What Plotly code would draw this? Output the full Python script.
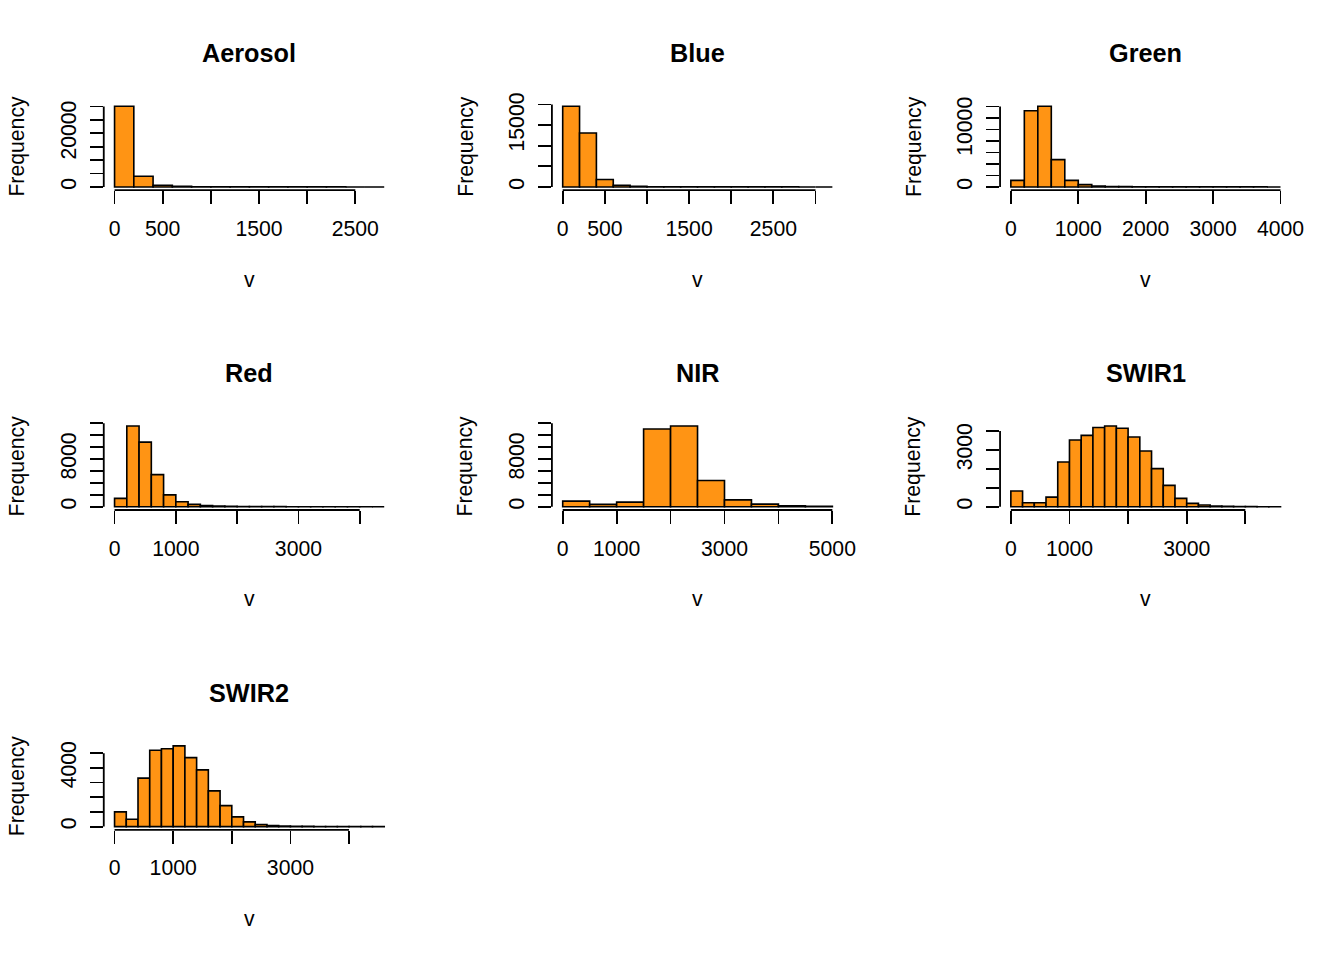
import plotly.graph_objects as go

# ---------------- data ----------------
panel_titles = ["Aerosol", "Blue", "Green", "Red", "NIR", "SWIR1", "SWIR2"]

# histogram breaks: start and bin width per panel
bin_starts = [0, 0, 0, 0, 0, 0, 0]
bin_widths = [200, 200, 200, 200, 500, 200, 200]

aerosol_counts = [30100, 4000, 620, 200, 80, 40, 25, 15, 10, 8, 5, 4, 3, 2]
blue_counts = [19600, 13100, 1800, 400, 150, 60, 35, 20, 12, 8, 6, 5, 4, 3, 2, 1]
green_counts = [1150, 13250, 14050, 4750, 1150, 400, 170, 80, 50, 30, 20, 15,
                10, 8, 6, 5, 4, 3, 2, 1]
red_counts = [1400, 13550, 10850, 5400, 2000, 850, 400, 220, 120, 80, 50, 30,
              20, 15, 10, 8, 6, 5, 4, 3, 2, 1]
nir_counts = [950, 400, 780, 13050, 13550, 4400, 1150, 450, 170, 60]
swir1_counts = [830, 210, 210, 510, 2360, 3520, 3770, 4180, 4260, 4140, 3680,
                2940, 2010, 1130, 440, 180, 90, 40, 20, 10, 6, 3, 2]
swir2_counts = [1000, 500, 3300, 5200, 5300, 5500, 4700, 3860, 2430, 1430, 660,
                320, 140, 70, 35, 20, 12, 8, 5, 3, 2, 1, 1]

# x-axis ticks and labels (R drops labels that would overlap)
aerosol_xticks = [0, 500, 1000, 1500, 2000, 2500]
aerosol_xlabels = ["0", "500", "", "1500", "", "2500"]
blue_xticks = [0, 500, 1000, 1500, 2000, 2500, 3000]
blue_xlabels = ["0", "500", "", "1500", "", "2500", ""]
green_xticks = [0, 1000, 2000, 3000, 4000]
green_xlabels = ["0", "1000", "2000", "3000", "4000"]
red_xticks = [0, 1000, 2000, 3000, 4000]
red_xlabels = ["0", "1000", "", "3000", ""]
nir_xticks = [0, 1000, 2000, 3000, 4000, 5000]
nir_xlabels = ["0", "1000", "", "3000", "", "5000"]
swir1_xticks = [0, 1000, 2000, 3000, 4000]
swir1_xlabels = ["0", "1000", "", "3000", ""]
swir2_xticks = [0, 1000, 2000, 3000, 4000]
swir2_xlabels = ["0", "1000", "", "3000", ""]

# y-axis ticks and labels
aerosol_yticks = [0, 5000, 10000, 15000, 20000, 25000, 30000]
aerosol_ylabels = ["0", "", "", "", "20000", "", ""]
blue_yticks = [0, 5000, 10000, 15000, 20000]
blue_ylabels = ["0", "", "", "15000", ""]
green_yticks = [0, 2000, 4000, 6000, 8000, 10000, 12000, 14000]
green_ylabels = ["0", "", "", "", "", "10000", "", ""]
red_yticks = [0, 2000, 4000, 6000, 8000, 10000, 12000, 14000]
red_ylabels = ["0", "", "", "", "8000", "", "", ""]
nir_yticks = [0, 2000, 4000, 6000, 8000, 10000, 12000, 14000]
nir_ylabels = ["0", "", "", "", "8000", "", "", ""]
swir1_yticks = [0, 1000, 2000, 3000, 4000]
swir1_ylabels = ["0", "", "", "3000", ""]
swir2_yticks = [0, 1000, 2000, 3000, 4000, 5000]
swir2_ylabels = ["0", "", "", "", "4000", ""]

x_label = "v"
y_label = "Frequency"

# ---------------- styling / layout ----------------
ORANGE = "#FF9414"
FONT = "Liberation Sans, Arial, Helvetica, sans-serif"
FW, FH = 1344, 949
S, B = 0.99, 10.7            # how the page ends up in the photograph
CELL_W, CELL_H = 448, 320
LINE = 25.3
PLOT_L = 4.1 * LINE
PLOT_R = CELL_W - 2.1 * LINE
PLOT_T = 4.1 * LINE
PLOT_B = CELL_H - 5.1 * LINE
AXW = 1.8 / S
TICKLEN = 13 / S
FS = 21 / S
FS_TITLE = 25 / S


def px(tx):
    return (tx / S) / FW


def py(ty):
    return 1 - ((ty - B) / S) / FH


panels = [
    (aerosol_counts, aerosol_xticks, aerosol_xlabels, aerosol_yticks, aerosol_ylabels),
    (blue_counts, blue_xticks, blue_xlabels, blue_yticks, blue_ylabels),
    (green_counts, green_xticks, green_xlabels, green_yticks, green_ylabels),
    (red_counts, red_xticks, red_xlabels, red_yticks, red_ylabels),
    (nir_counts, nir_xticks, nir_xlabels, nir_yticks, nir_ylabels),
    (swir1_counts, swir1_xticks, swir1_xlabels, swir1_yticks, swir1_ylabels),
    (swir2_counts, swir2_xticks, swir2_xlabels, swir2_yticks, swir2_ylabels),
]

fig = go.Figure()
shapes = []
annotations = []

for i, (counts, xt, xl, yt, yl) in enumerate(panels):
    r, c = divmod(i, 3)
    sfx = "" if i == 0 else str(i + 1)
    xa, ya = "x" + sfx, "y" + sfx
    left = c * CELL_W
    top = r * CELL_H
    xdom = [px(left + PLOT_L), px(left + PLOT_R)]
    ydom = [py(top + PLOT_B), py(top + PLOT_T)]

    w = bin_widths[i]
    breaks = [bin_starts[i] + k * w for k in range(len(counts) + 1)]
    fig.add_trace(go.Bar(
        x=breaks[:-1], y=counts, width=w, offset=0,
        xaxis=xa, yaxis=ya, showlegend=False,
        marker=dict(color=ORANGE, line=dict(color="black", width=1.6 / S)),
    ))

    xr = breaks[-1] - breaks[0]
    ymax = max(counts)
    common = dict(showgrid=False, zeroline=False, showline=False,
                  ticks="outside", ticklen=TICKLEN, tickwidth=AXW, tickcolor="black",
                  tickfont=dict(family=FONT, size=FS, color="black"),
                  tickmode="array", fixedrange=True)
    fig.update_layout(**{
        ("xaxis" + sfx): dict(domain=xdom, anchor=ya,
                              range=[breaks[0] - 0.04 * xr, breaks[-1] + 0.04 * xr],
                              tickvals=xt, ticktext=xl, ticklabelstandoff=6, **common),
        ("yaxis" + sfx): dict(domain=ydom, anchor=xa,
                              range=[-0.04 * ymax, 1.04 * ymax],
                              tickvals=yt, ticktext=yl, tickangle=-90,
                              ticklabelstandoff=5, **common),
    })

    # axis lines spanning first to last tick (as R draws them)
    shapes.append(dict(type="line", xref=xa, yref=ya + " domain",
                       x0=xt[0], x1=xt[-1], y0=0, y1=0,
                       line=dict(color="black", width=AXW)))
    shapes.append(dict(type="line", xref=xa + " domain", yref=ya,
                       x0=0, x1=0, y0=yt[0], y1=yt[-1],
                       line=dict(color="black", width=AXW)))

    cx = px(left + (PLOT_L + PLOT_R) / 2)
    annotations.append(dict(text="<b>%s</b>" % panel_titles[i], xref="paper", yref="paper",
                            x=cx, y=py(top + 54), xanchor="center", yanchor="middle",
                            showarrow=False, font=dict(family=FONT, size=FS_TITLE, color="black")))
    annotations.append(dict(text=x_label, xref="paper", yref="paper",
                            x=cx, y=py(top + 280), xanchor="center", yanchor="middle",
                            showarrow=False, font=dict(family=FONT, size=FS, color="black")))
    annotations.append(dict(text=y_label, xref="paper", yref="paper",
                            x=px(left + 17), y=py(top + (PLOT_T + PLOT_B) / 2),
                            xanchor="center", yanchor="middle", textangle=-90,
                            showarrow=False, font=dict(family=FONT, size=FS, color="black")))

fig.update_layout(
    width=FW, height=FH, autosize=False,
    margin=dict(l=0, r=0, t=0, b=0, pad=0),
    paper_bgcolor="white", plot_bgcolor="white",
    font=dict(family=FONT, size=FS, color="black"),
    bargap=0, barmode="overlay",
    shapes=shapes, annotations=annotations,
)

fig.write_html("out.html", config={"staticPlot": True, "displayModeBar": False},
               post_script="document.body.style.margin='0';")
